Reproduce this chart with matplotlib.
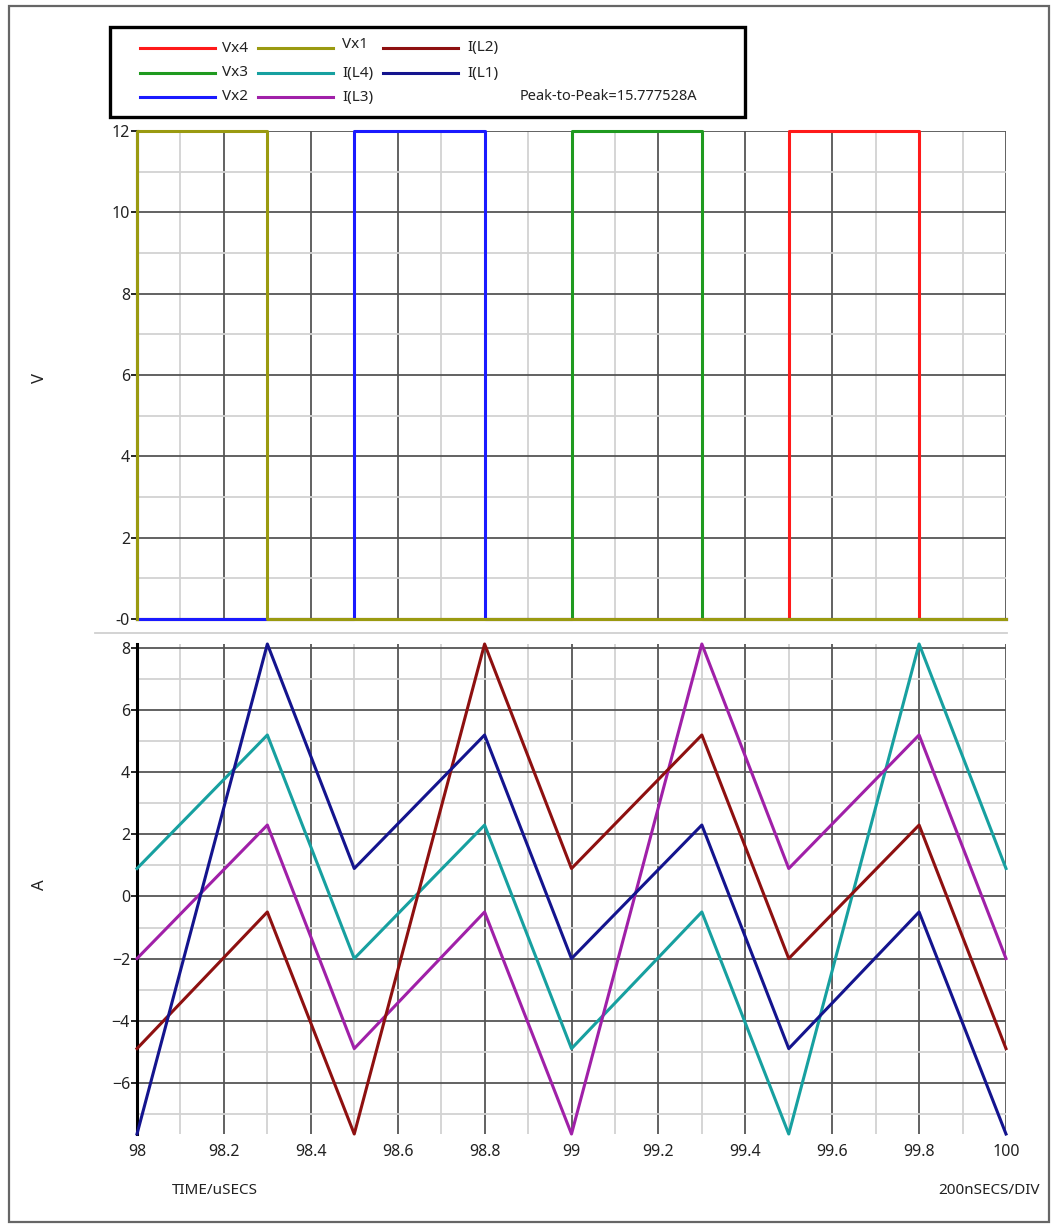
import numpy as np
import matplotlib
matplotlib.use("Agg")
from matplotlib import pyplot as plt
from matplotlib.lines import Line2D
from matplotlib.patches import Rectangle
from matplotlib.ticker import MultipleLocator

plt.rcParams['font.family'] = ['Noto Sans', 'DejaVu Sans']

# time breakpoints (uSECS)
t = [98.0, 98.3, 98.5, 98.8, 99.0, 99.3, 99.5, 99.8, 100.0]

# inductor currents (A)
iL1 = [-7.65, 8.13, 0.9, 5.2, -2.0, 2.3, -4.9, -0.5, -7.65]
iL2 = [-4.9, -0.5, -7.65, 8.13, 0.9, 5.2, -2.0, 2.3, -4.9]
iL3 = [-2.0, 2.3, -4.9, -0.5, -7.65, 8.13, 0.9, 5.2, -2.0]
iL4 = [0.9, 5.2, -2.0, 2.3, -4.9, -0.5, -7.65, 8.13, 0.9]

# switch node voltages (V)
tx1 = [98.0, 98.0, 98.3, 98.3, 100.0]
vx1 = [0, 12, 12, 0, 0]
tx2 = [98.0, 98.5, 98.5, 98.8, 98.8, 100.0]
vx2 = [0, 0, 12, 12, 0, 0]
tx3 = [98.0, 99.0, 99.0, 99.3, 99.3, 100.0]
vx3 = [0, 0, 12, 12, 0, 0]
tx4 = [98.0, 99.5, 99.5, 99.8, 99.8, 100.0]
vx4 = [0, 0, 12, 12, 0, 0]

peak_to_peak = "Peak-to-Peak=15.777528A"

c_vx4, c_vx3, c_vx2, c_vx1 = '#ff1a1a', '#1f9a1f', '#1a1aff', '#9a9a10'
c_l4, c_l3, c_l2, c_l1 = '#17a0a0', '#a020a8', '#8e1010', '#14148e'

W, H = 1063, 1226
fig = plt.figure(figsize=(W / 100, H / 100), dpi=100)


def px(x, y):
    return x / W, 1 - y / H


def rect(x0, y0, x1, y1):
    return [x0 / W, 1 - y1 / H, (x1 - x0) / W, (y1 - y0) / H]


def style(ax, ymajor):
    ax.xaxis.set_major_locator(MultipleLocator(0.2))
    ax.xaxis.set_minor_locator(MultipleLocator(0.1))
    ax.yaxis.set_major_locator(MultipleLocator(ymajor))
    ax.yaxis.set_minor_locator(MultipleLocator(ymajor / 2))
    ax.grid(which='minor', color='#d2d2d2', lw=1.3)
    ax.grid(which='major', color='#555555', lw=1.3)
    ax.set_axisbelow(True)
    for s in ['top', 'right', 'bottom']:
        ax.spines[s].set_visible(False)
    ax.spines['left'].set_color('black')
    ax.spines['left'].set_linewidth(2.2)
    ax.tick_params(axis='y', which='major', length=4, width=1.2, labelsize=11.5,
                   pad=1, labelcolor='#222222')
    ax.tick_params(axis='y', which='minor', length=0)
    ax.tick_params(axis='x', which='both', length=0, labelsize=11.5, pad=7,
                   labelcolor='#222222')
    ax.set_xlim(98, 100)


# voltage panel
ax1 = fig.add_axes(rect(137, 131, 1006, 619))
style(ax1, 2)
ax1.set_ylim(0, 12)
ax1.set_yticks([0, 2, 4, 6, 8, 10, 12])
ax1.set_yticklabels(['-0', '2', '4', '6', '8', '10', '12'])
ax1.tick_params(axis='x', labelbottom=False)
for tx, vx, c in [(tx4, vx4, c_vx4), (tx3, vx3, c_vx3), (tx2, vx2, c_vx2), (tx1, vx1, c_vx1)]:
    ax1.plot(tx, vx, color=c, lw=2.2, clip_on=False, zorder=3)

# current panel
ax2 = fig.add_axes(rect(137, 644, 1006, 1134))
style(ax2, 2)
ax2.set_ylim(-7.65, 8.13)
ax2.set_yticks([-6, -4, -2, 0, 2, 4, 6, 8])
ax2.set_xticks(np.round(np.arange(98, 100.01, 0.2), 1))
ax2.set_xticklabels(['98', '98.2', '98.4', '98.6', '98.8', '99', '99.2', '99.4', '99.6', '99.8', '100'])
for y, c in [(iL4, c_l4), (iL3, c_l3), (iL2, c_l2), (iL1, c_l1)]:
    ax2.plot(t, y, color=c, lw=2.2, clip_on=False, zorder=3)

# axis labels
fig.text(*px(40, 378), 'V', rotation=90, ha='center', va='center', fontsize=12, color='#222222')
fig.text(*px(40, 885), 'A', rotation=90, ha='center', va='center', fontsize=12, color='#222222')
fig.text(*px(172, 1190), 'TIME/uSECS', ha='left', va='center', fontsize=11, color='#222222')
fig.text(*px(1040, 1190), '200nSECS/DIV', ha='right', va='center', fontsize=11, color='#222222')

# separator between panels and outer frame
fig.add_artist(Line2D([95 / W, 1007 / W], [1 - 633 / H] * 2, color='#d0d0d0', lw=1.3))
fig.add_artist(Rectangle(px(9, 1222), 1040 / W, 1216 / H, fill=False,
                         edgecolor='#666666', lw=1.6))

# legend box
fig.add_artist(Rectangle(px(110, 117), 635 / W, 90 / H, fill=False,
                         edgecolor='black', lw=2.4))
entries = [
    ('Vx4', c_vx4, 0, 0), ('Vx3', c_vx3, 0, 1), ('Vx2', c_vx2, 0, 2),
    ('Vx1', c_vx1, 1, 0), ('I(L4)', c_l4, 1, 1), ('I(L3)', c_l3, 1, 2),
    ('I(L2)', c_l2, 2, 0), ('I(L1)', c_l1, 2, 1),
]
col_x = [(140, 215, 222), (258, 333, 342), (383, 458, 467)]
row_y = [48, 73, 97]
for label, c, col, row in entries:
    x0, x1, xt = col_x[col]
    y = row_y[row]
    fig.add_artist(Line2D([x0 / W, x1 / W], [1 - y / H] * 2, color=c, lw=2.2))
    dy = -3 if (col == 1 and row == 0) else 0
    fig.text(*px(xt, y + dy), label, ha='left', va='center', fontsize=11, color='#222222')
fig.text(*px(520, 97), peak_to_peak, ha='left', va='center', fontsize=10.5, color='#222222')

fig.savefig('out.png', dpi=100)
